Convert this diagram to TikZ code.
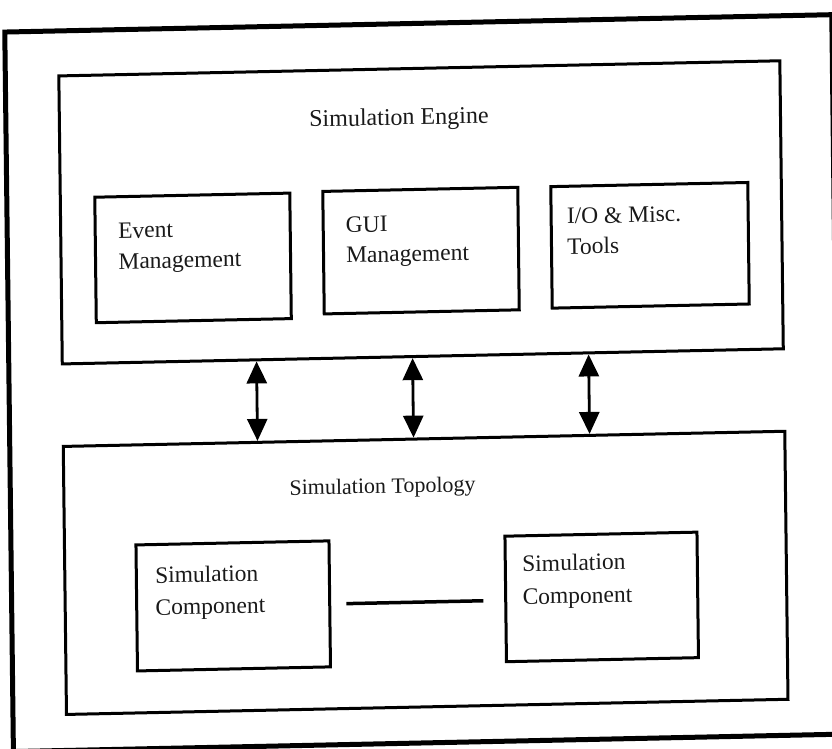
\documentclass[tikz,border=0pt]{standalone}
\usepackage{fontspec}
\setmainfont{Liberation Serif}
\usetikzlibrary{arrows.meta}
\tikzset{
  outerbox/.style={draw, line width=5pt, inner sep=0pt},
  blockbox/.style={draw, line width=3pt, inner sep=0pt},
  lbl/.style={inner sep=0pt, anchor=north west, align=left, text=black!90, font=\fontsize{23.5}{30.5}\selectfont},
  ttl/.style={inner sep=0pt, text=black!90},
  biarrow/.style={line width=2.8pt, {Triangle[width=20pt,length=22pt]}-{Triangle[width=20pt,length=22pt]}},
  link/.style={line width=3.5pt}
}
\begin{document}
\begin{tikzpicture}[x=1pt,y=-1pt]
\useasboundingbox (0,0) rectangle (832,749);
\begin{scope}[cm={1,0.021,-0.012,1,(-4.5pt,-8.74pt)}, transform shape]
  % frames
  \node[outerbox, minimum width=827pt, minimum height=719.5pt] (outer) at (422.5,383.25) {};
  \node[blockbox, minimum width=721pt, minimum height=288pt] (se) at (423,212.5) {};
  \node[blockbox, minimum width=721.5pt, minimum height=268pt] (st) at (423.25,573) {};
  % engine blocks
  \node[blockbox, minimum width=195pt, minimum height=125.5pt] (ev) at (194.5,253.25) {};
  \node[blockbox, minimum width=195pt, minimum height=122.5pt] (gui) at (422.5,250.75) {};
  \node[blockbox, minimum width=197pt, minimum height=121.5pt] (io) at (651.5,250.25) {};
  % topology blocks
  \node[blockbox, minimum width=193pt, minimum height=126pt] (lc) at (230.5,602) {};
  \node[blockbox, minimum width=192pt, minimum height=125.5pt] (rc) at (599,600.75) {};
  % titles
  \node[ttl, font=\fontsize{24}{28}\selectfont] (setitle) at (402,119) {Simulation Engine};
  \node[ttl, font=\fontsize{22}{26}\selectfont] (sttitle) at (381.2,487.3) {Simulation Topology};
  % labels
  \node[lbl] (evtxt) at (119.8,216.7) {Event\\Management};
  \node[lbl] (guitxt) at (347.5,215.2) {GUI\\Management};
  \node[lbl] (iotxt) at (568.6,211.2) {I/O \& Misc.\\Tools};
  \node[lbl, font=\fontsize{23.5}{32}\selectfont] (lctxt) at (152.7,561) {Simulation\\Component};
  \node[lbl, font=\fontsize{23.5}{33}\selectfont] (rctxt) at (519.8,557.2) {Simulation\\Component};
  % arrows
  \coordinate (a1) at (256.7,0);
  \coordinate (a2) at (412.7,0);
  \coordinate (a3) at (588.7,0);
  \draw[biarrow] (se.south -| a1) -- (st.north -| a1);
  \draw[biarrow] (se.south -| a2) -- (st.north -| a2);
  \draw[biarrow] (se.south -| a3) -- (st.north -| a3);
  % link between components
  \draw[link, shorten <=15pt, shorten >=21pt] (lc.east) -- (lc.east -| rc.west);
\end{scope}
\end{tikzpicture}
\end{document}
